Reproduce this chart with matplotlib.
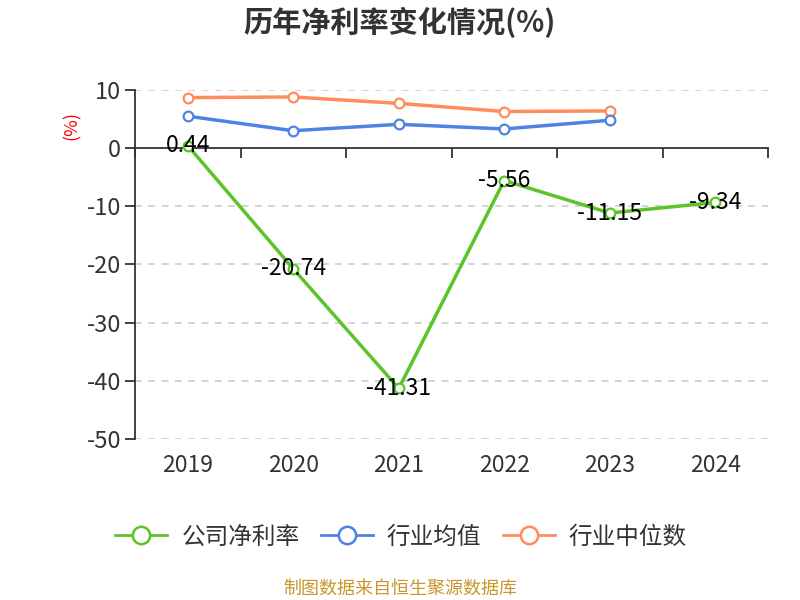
import matplotlib
matplotlib.use("Agg")
import matplotlib.pyplot as plt
from matplotlib.transforms import blended_transform_factory
from matplotlib.lines import Line2D

plt.rcParams['font.family'] = ['Noto Sans CJK SC', 'DejaVu Sans']

years = ['2019', '2020', '2021', '2022', '2023', '2024']
company = [0.44, -20.74, -41.31, -5.56, -11.15, -9.34]
ind_mean = [5.5, 3.0, 4.1, 3.3, 4.8]
ind_median = [8.7, 8.8, 7.7, 6.3, 6.4]
yticks = [10, 0, -10, -20, -30, -40, -50]

c_green = '#5CC329'
c_blue = '#4F83E3'
c_orange = '#FF8C5A'
txt = '#333333'

fig = plt.figure(figsize=(8, 6), dpi=100)
ax = fig.add_axes([135/800, 1-439/600, (768-135)/800, (439-90)/600])

x = list(range(len(years)))
ax.set_xlim(-0.5, len(years) - 0.5)
ax.set_ylim(-50, 10)

for v in yticks:
    if v != 0:
        ax.axhline(v, color='#cccccc', lw=1.2, ls=(0, (4, 4)), zorder=1)

mk = dict(marker='o', markersize=7, markerfacecolor='white', markeredgewidth=1.6)
ax.plot(x[:len(ind_median)], ind_median, color=c_orange, lw=2.5, markeredgecolor=c_orange, zorder=3, **mk)
ax.plot(x[:len(ind_mean)], ind_mean, color=c_blue, lw=2.5, markeredgecolor=c_blue, zorder=3, **mk)
ax.plot(x, company, color=c_green, lw=2.5, markeredgecolor=c_green, zorder=3, **mk)

for xi, v in zip(x, company):
    ax.text(xi, v, f'{v:.2f}', ha='center', va='center', fontsize=16.5, color='black', zorder=5)

for s in ['top', 'right']:
    ax.spines[s].set_visible(False)
ax.spines['left'].set_color(txt)
ax.spines['left'].set_linewidth(1.3)
ax.spines['bottom'].set_position(('data', 0))
ax.spines['bottom'].set_color(txt)
ax.spines['bottom'].set_linewidth(1.3)

ax.set_yticks(yticks)
ax.set_yticklabels([str(v) for v in yticks])
ax.tick_params(axis='y', length=7, width=1.3, color=txt, labelsize=17, labelcolor=txt, pad=3)

bounds = [i - 0.5 for i in range(len(years) + 1)]
ax.set_xticks(bounds)
ax.set_xticklabels([])
ax.tick_params(axis='x', length=7, width=1.3, color=txt, direction='out')

trans = blended_transform_factory(ax.transData, ax.transAxes)
for xi, y in zip(x, years):
    ax.text(xi, -0.075, y, transform=trans, ha='center', va='center', fontsize=16.5, color=txt)

fig.text(400/800, 1-22/600, '历年净利率变化情况(%)', ha='center', va='center', fontsize=21, fontweight='bold', color='#333333')
fig.text(72/800, 1-125/600, '(%)', ha='center', va='center', rotation=90, fontsize=13, color='red')

handles = [
    Line2D([0], [0], color=c_green, lw=2, marker='o', markersize=12.5, markerfacecolor='white', markeredgewidth=1.8, markeredgecolor=c_green),
    Line2D([0], [0], color=c_blue, lw=2, marker='o', markersize=12.5, markerfacecolor='white', markeredgewidth=1.8, markeredgecolor=c_blue),
    Line2D([0], [0], color=c_orange, lw=2, marker='o', markersize=12.5, markerfacecolor='white', markeredgewidth=1.8, markeredgecolor=c_orange),
]
fig.legend(handles, ['公司净利率', '行业均值', '行业中位数'], loc='center', bbox_to_anchor=(401/800, 1-537/600),
           ncol=3, frameon=False, fontsize=17, handlelength=2.2, columnspacing=0.9, handletextpad=0.6,
           labelcolor=txt)

fig.text(400/800, 1-589/600, '制图数据来自恒生聚源数据库', ha='center', va='center', fontsize=13, color='#C8962A')

fig.savefig('out.png', dpi=100)
